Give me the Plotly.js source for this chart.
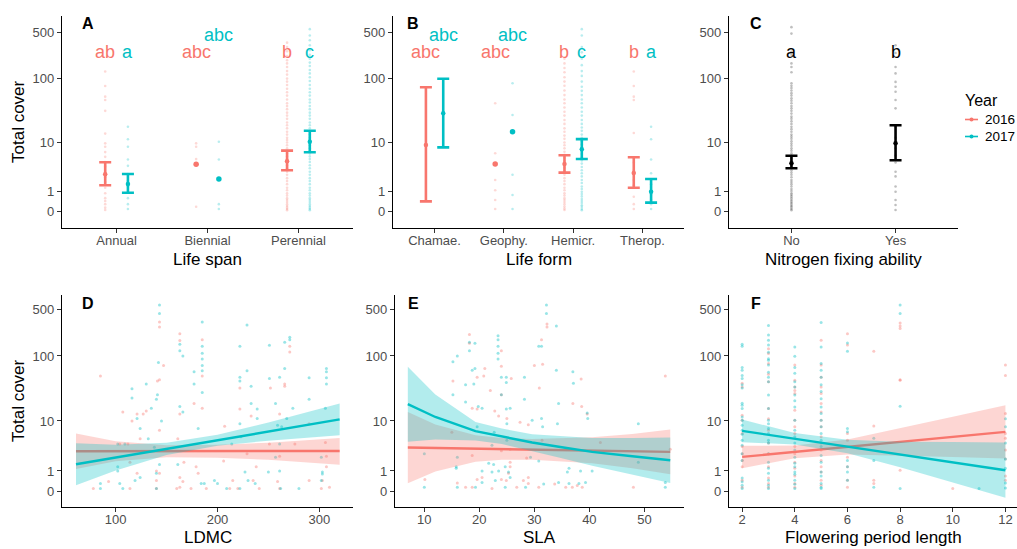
<!DOCTYPE html>
<html><head><meta charset="utf-8">
<script src="https://cdn.plot.ly/plotly-3.0.1.min.js"></script>
<style>html,body{margin:0;padding:0;background:#fff;}#chart{width:1017px;height:549px;}</style>
</head><body><div id="chart"></div>
<script>
// ---------------- DATA ----------------
const yearLabels = ['2016', '2017'];
const coverTicks = [0, 1, 10, 100, 500];

// Panel A: life span
const lifeSpanCats = ['Annual', 'Biennial', 'Perennial'];
const lifeSpanMean16 = [2.66, 4.18, 4.74];
const lifeSpanLo16 = [1.5, null, 3.2];
const lifeSpanHi16 = [4.55, null, 7.3];
const lifeSpanMean17 = [1.61, 2.1, 10.3];
const lifeSpanLo17 = [0.93, null, 6.84];
const lifeSpanHi17 = [2.7, null, 15.6];
const lifeSpanLetters16 = ['ab', 'abc', 'b'];
const lifeSpanLetters17 = ['a', 'abc', 'c'];
const lifeSpanLetterY16 = [250, 250, 250];
const lifeSpanLetterY17 = [250, 450, 250];
const lifeSpanPts16 = [
  [128, 77, 53, 47, 32, 14, 9.7, 8.5, 6.9, 5.7, 4.6, 3.8, 2.9, 2.3, 1.8, 1.3, 0.9, 0.6, 0.45, 0.3, 0.15, 0.06],
  [9.7, 8.5, 5.2, 0.19],
  [350, 300, 260, 220, 190, 170, 150, 130, 115, 100, 90, 80, 70, 62, 55, 48, 42, 38, 34, 30, 27, 24, 21, 19, 17, 15, 13.5, 12, 11, 10, 9, 8, 7.2, 6.5, 5.8, 5.2, 4.6, 4, 3.5, 3, 2.6, 2.2, 1.9, 1.6, 1.3, 1.1, 0.9, 0.75, 0.6, 0.5, 0.4, 0.3, 0.22, 0.15, 0.1, 0.05]
];
const lifeSpanPts17 = [
  [18, 11.3, 8.5, 5.1, 3.9, 2.7, 1.9, 1.4, 0.93, 0.6, 0.3, 0.1],
  [10.3, 5.1, 0.3, 0.1],
  [560, 450, 380, 320, 270, 230, 200, 175, 155, 135, 120, 105, 92, 80, 70, 62, 55, 48, 43, 38, 34, 30, 27, 24, 21, 19, 17, 15, 13.5, 12, 11, 10, 9, 8, 7.2, 6.5, 5.8, 5.2, 4.6, 4, 3.5, 3, 2.6, 2.2, 1.9, 1.6, 1.3, 1.1, 0.9, 0.75, 0.6, 0.5, 0.4, 0.3, 0.22, 0.15, 0.1, 0.05]
];

// Panel B: life form
const lifeFormCats = ['Chamae.', 'Geophy.', 'Hemicr.', 'Therop.'];
const lifeFormMean16 = [9.1, 4.23, 4.23, 2.83];
const lifeFormLo16 = [0.43, null, 2.87, 1.3];
const lifeFormHi16 = [73.7, null, 6.07, 5.6];
const lifeFormMean17 = [29.3, 15, 7.7, 1.0];
const lifeFormLo17 = [8.3, null, 5.22, 0.37];
const lifeFormHi17 = [99.7, null, 11.4, 2.1];
const lifeFormLetters16 = ['abc', 'abc', 'b', 'b'];
const lifeFormLetters17 = ['abc', 'abc', 'c', 'a'];
const lifeFormLetterY16 = [250, 250, 250, 250];
const lifeFormLetterY17 = [450, 450, 250, 250];
const lifeFormPts16 = [
  [],
  [42, 6.6, 2.0, 1.1, 0.5, 0.1],
  [200, 170, 145, 125, 105, 90, 78, 66, 56, 48, 42, 36, 31, 27, 23, 20, 17, 15, 13, 11.5, 10, 9, 8, 7, 6.2, 5.5, 4.8, 4.2, 3.6, 3.1, 2.6, 2.2, 1.9, 1.6, 1.3, 1.1, 0.9, 0.75, 0.6, 0.5, 0.4, 0.3, 0.2, 0.12, 0.06],
  [128, 77, 53, 47, 14.3, 4.5, 3.2, 2.0, 1.5, 0.68, 0.3, 0.1]
];
const lifeFormPts17 = [
  [],
  [85, 27.6, 2.6, 0.78, 0.1],
  [560, 450, 300, 250, 200, 160, 130, 110, 90, 75, 65, 56, 48, 42, 36, 31, 27, 23, 20, 17.5, 15.5, 13.5, 12, 10.5, 9.3, 8.2, 7.2, 6.4, 5.6, 4.9, 4.3, 3.7, 3.2, 2.8, 2.4, 2, 1.7, 1.4, 1.2, 1, 0.85, 0.7, 0.55, 0.45, 0.35, 0.25, 0.18, 0.1, 0.05],
  [18, 11.3, 5.1, 2.8, 1.6, 0.8, 0.5, 0.3, 0.1]
];

// Panel C: nitrogen fixing ability
const nFixCats = ['No', 'Yes'];
const nFixMean = [4.36, 9.7];
const nFixLo = [3.51, 4.94];
const nFixHi = [5.97, 19];
const nFixLetters = ['a', 'b'];
const nFixLetterY = [250, 250];
const nFixPts = [
  [600, 480, 255, 230, 170, 150, 125, 85, 78, 72, 66, 60, 55, 50, 46, 42, 38, 35, 32, 29, 26, 24, 22, 20, 18, 16.5, 15, 13.5, 12.5, 11.5, 10.5, 9.6, 8.8, 8, 7.3, 6.6, 6, 5.4, 4.9, 4.4, 4, 3.6, 3.2, 2.9, 2.6, 2.3, 2, 1.8, 1.6, 1.4, 1.2, 1.05, 0.9, 0.8, 0.7, 0.6, 0.5, 0.42, 0.35, 0.28, 0.22, 0.16, 0.1, 0.05],
  [320, 245, 150, 120, 89, 75, 63, 47, 35, 18, 12, 8, 6, 4.5, 3.0, 2.4, 1.4, 1.0, 0.5, 0.26, 0.06]
];

// Panel D: LDMC  [LDMC, cover]
const ldmcPts16 = [[85,50],[143,320],[143,270],[143,44],[141,42],[147,72],[143,7],[140,1],[140,0.45],[140,0.1],[143,0.85],[127,13],[130,14.5],[121,13],[124,5],[116,10],[107,14],[112,4],[114,1.7],[104,4],[93,0.4],[78,0.1],[114,0.1],[121,0.85],[163,215],[163,170],[163,13],[161,5],[167,1.7],[163,0.6],[166,0.4],[160,0.1],[163,0.15],[185,175],[185,50],[185,16],[177,19],[179,1.3],[181,0.85],[174,0.1],[189,0.1],[207,8.2],[206,1.8],[215,0.45],[220,0.1],[212,0.1],[222,33],[222,15.5],[233,12],[229,2.6],[238,1.3],[235,0.45],[241,0.1],[252,33],[266,38],[271,140],[271,115],[266,35],[261,13],[251,4],[261,2.3],[276,4],[259,0.4],[261,0.1],[290,9],[290,0.45],[306,4.3],[307,2.3],[307,1.3],[303,0.45],[302,0.1],[310,0.15]];
const ldmcPts17 = [[143,575],[143,430],[142,80],[141,26],[140,22],[135,16],[130,38],[116,32],[116,23],[121,11],[124,7.5],[102,4],[109,4],[102,1.3],[102,1],[85,0.3],[85,0.1],[104,0.3],[107,0.1],[119,0.45],[124,0.6],[132,5],[138,3.5],[143,1.5],[140,0.85],[140,0.1],[145,10],[163,150],[163,120],[166,100],[163,17],[166,14],[161,1.5],[185,320],[185,140],[185,110],[185,90],[185,72],[185,60],[185,28],[177,58],[177,38],[181,7.5],[184,0.3],[187,0.3],[222,140],[229,290],[222,48],[222,42],[233,35],[229,60],[233,19],[222,9],[239,15.5],[239,11],[223,5.4],[214,4],[227,0.93],[230,0.45],[237,0.3],[222,0.1],[197,0.45],[200,0.3],[209,0.1],[251,145],[266,160],[271,190],[271,175],[266,65],[251,46],[261,48],[257,19],[259,8.5],[263,8],[268,11],[274,16],[261,4],[257,2.2],[261,1],[250,0.93],[262,0.1],[290,47],[290,22],[307,65],[307,58],[307,47],[307,38],[306,16],[302,2.2],[303,0.93],[303,0.8],[280,0.1],[302,0.45]];
const ldmcGrid = [61, 100, 150, 200, 250, 320];
const ldmcFit16 = [2.92, 2.92, 2.93, 2.94, 2.95, 2.96];
const ldmcLo16 = [1.14, 1.79, 2.20, 2.13, 1.92, 1.48];
const ldmcHi16 = [6.18, 4.50, 3.79, 3.90, 4.25, 5.17];
const ldmcFit17 = [1.51, 2.16, 3.25, 4.70, 6.67, 10.6];
const ldmcLo17 = [0.23, 1.04, 2.45, 3.74, 4.62, 5.75];
const ldmcHi17 = [4.13, 3.90, 4.22, 5.85, 9.47, 18.9];

// Panel E: SLA  [SLA, cover]
const slaPts16 = [[18.2,210],[18.2,155],[32.3,300],[32.3,270],[31.3,175],[31.5,75],[30,72],[30.9,33],[15.2,42],[15,6.5],[21,65],[20.8,50],[19.6,48],[22,30],[24,120],[24,70],[24,26],[25.8,46],[22.8,14.5],[18.7,16],[19.6,15.5],[23.5,12],[25,11],[27.4,9.5],[28.9,8.7],[37,19],[38.6,17],[38.5,45],[39.6,13],[53.8,50],[48,0.15],[10.1,0.5],[16,0.33],[19.6,0.5],[20.5,0.6],[24,0.5],[24.9,0.45],[25.3,0.85],[25.6,1.3],[25.6,1.7],[26.8,0.15],[28,0.45],[28.9,0.6],[28.6,2.1],[28.9,0.3],[30.8,0.15],[33.7,0.28],[35.7,0.15],[36.9,0.15],[37.8,0.22],[38.7,0.15],[17.5,0.15],[18.7,0.15],[22.3,0.1],[18.7,2.4],[24,3],[25.6,3.2],[31.4,4.7],[42,4.3],[54.7,3.2]];
const slaPts17 = [[32.2,575],[32.2,430],[34,280],[30.8,140],[31.3,140],[23.4,200],[23.4,175],[23.4,140],[23.4,110],[23.4,90],[18.2,160],[19.2,155],[18.2,120],[15.2,82],[16,100],[18.7,61],[19.2,65],[19,38],[17.5,37],[15.2,26],[17.5,20],[19.8,17],[20.5,16],[24,48],[24.9,48],[24.9,40],[24,26],[24.9,15.5],[25.6,16],[28.2,48],[28.2,22],[29.6,10.3],[31.3,11],[31.5,8],[34,61],[34.4,19],[34.2,9],[37,58],[37.1,39],[39.7,11],[39.6,13.5],[48.9,9],[48.9,1.7],[53.8,0.35],[53.8,0.15],[10,2.6],[10,0.15],[15.8,1.3],[15.8,1.2],[16,2.2],[20.5,1.0],[21.7,1.6],[22.6,1.5],[22.3,0.93],[23.5,1],[24.7,1.3],[25.3,0.93],[25.6,0.6],[22.9,0.45],[24.7,0.15],[28.4,0.15],[31.7,0.28],[36.3,0.3],[36,0.93],[36.3,1.2],[39.3,0.35],[40.5,1.0],[29.3,2.2],[30.8,1.8],[19.3,0.15],[16,0.15],[20.5,0.35],[34.4,0.35],[38.4,1.0],[38.1,0.3],[22.7,6.5],[25,4.7],[22.3,3.8],[19.6,8],[25,9]];
const slaGrid = [7, 12, 19.3, 24.1, 29.6, 35, 40.5, 47.8, 54.7];
const slaFit16 = [3.45, 3.39, 3.31, 3.25, 3.19, 3.12, 3.06, 2.94, 2.83];
const slaLo16 = [0.315, 0.968, 1.74, 1.92, 1.94, 1.79, 1.61, 1.19, 0.78];
const slaHi16 = [14.0, 8.77, 5.76, 5.17, 4.96, 5.10, 5.31, 6.08, 7.22];
const slaFit17 = [18.5, 11.6, 6.77, 5.55, 4.28, 3.5, 2.83, 2.3, 1.88];
const slaLo17 = [4.40, 4.83, 4.65, 4.01, 2.96, 2.09, 1.38, 0.78, 0.33];
const slaHi17 = [68.8, 26.2, 9.67, 7.51, 6.01, 5.53, 5.17, 5.17, 5.27];

// Panel F: flowering period length  [length, cover]
const fplPts16 = [[2,39],[2,34],[2,12.4],[2,10.3],[2,6.2],[2,3.6],[2,2.6],[2,1.85],[2,1.3],[2,0.46],[2,0.15],
  [3,128],[3,109],[3,77],[3,53],[3,41],[3,15.8],[3,10.9],[3,7.0],[3,4.2],[3,2.6],[3,1.3],[3,0.57],[3,0.3],[3,0.15],
  [4,73],[4,43],[4,34],[4,30],[4,27],[4,14.8],[4,10.3],[4,8.0],[4,6.2],[4,3.6],[4,2.6],[4,1.7],[4,1.2],[4,0.68],[4,0.3],[4,0.15],
  [5,172],[5,73],[5,48],[5,34],[5,27],[5,19],[5,14],[5,10.3],[5,8.0],[5,5.4],[5,4.2],[5,3.1],[5,1.85],[5,1.3],[5,0.93],[5,0.46],[5,0.23],
  [6,215],[6,146],[6,6.2],[6,4.7],[6,2.2],[6,1.3],[6,0.46],[6,0.15],
  [7,118],[7,8.3],[7,0.46],[7,0.3],
  [8,310],[8,280],[8,257],[8,44],[8,43],[8,1.05],
  [10,0.1],
  [12,73],[12,51],[12,13.2],[12,6.2],[12,5.1],[12,3.1],[12,2.0],[12,0.68],[12,0.46]];
const fplPts17 = [[2,150],[2,140],[2,67],[2,61],[2,51],[2,46],[2,37],[2,33],[2,19.2],[2,17.8],[2,15.8],[2,11.6],[2,10.3],[2,8.5],[2,7.0],[2,6.0],[2,4.7],[2,3.8],[2,2.6],[2,1.85],[2,0.57],[2,0.38],[2,0.23],[2,0.1],
  [3,285],[3,205],[3,172],[3,146],[3,114],[3,91],[3,86],[3,73],[3,57],[3,48],[3,41],[3,25.6],[3,15.8],[3,10.3],[3,9.0],[3,7.5],[3,6.2],[3,4.7],[3,4.2],[3,2.6],[3,1.7],[3,1.2],[3,0.85],[3,0.46],[3,0.23],[3,0.1],
  [4,136],[4,99],[4,67],[4,55],[4,41],[4,34],[4,25.6],[4,21],[4,16.7],[4,10.3],[4,7.0],[4,5.4],[4,4.2],[4,3.1],[4,2.2],[4,1.6],[4,1.3],[4,0.93],[4,0.78],[4,0.46],[4,0.27],[4,0.1],
  [5,315],[5,136],[5,77],[5,61],[5,48],[5,37],[5,29],[5,22.5],[5,16.7],[5,13.2],[5,10.3],[5,8.0],[5,6.2],[5,4.7],[5,3.6],[5,2.4],[5,1.7],[5,0.93],[5,0.68],[5,0.3],[5,0.15],[5,0.1],
  [6,157],[6,118],[6,7.5],[6,6.6],[6,1.85],[6,1.3],[6,0.93],[6,0.46],
  [7,5.1],[7,1.85],[7,0.15],
  [8,575],[8,430],[8,17.2],[8,0.1],
  [11,0.1],
  [12,10.9],[12,8.0],[12,4.2],[12,2.0],[12,1.2],[12,0.33],[12,0.12]];
const fplGrid = [2, 4, 6, 8, 10, 12];
const fplFit16 = [2.23, 2.83, 3.54, 4.38, 5.40, 6.59];
const fplLo16 = [1.20, 2.08, 2.52, 2.40, 2.21, 2.05];
const fplHi16 = [3.73, 3.76, 4.85, 7.53, 11.76, 17.84];
const fplFit17 = [6.85, 5.0, 3.59, 2.51, 1.69, 1.05];
const fplLo17 = [4.33, 3.93, 2.65, 1.26, 0.35, -0.20];
const fplHi17 = [10.56, 6.29, 4.78, 4.43, 4.36, 4.27];

// ---------------- DRAWING ----------------
const tr = v => Math.log10(v + 1);
const RED = '#F8766D', CYAN = '#00BFC4', BLACK = '#000000';
const FONT = 'Liberation Sans, Arial, Helvetica, sans-serif';
const W = 1017, H = 549;
const PX = p => p / W, PY = p => 1 - p / H;
const DODGE = 0.125;

const traces = [];
const annotations = [];

function catSeries(xa, ya, pts, mean, lo, hi, color, offset, ptOpacity) {
  const px = [], py = [];
  pts.forEach((arr, i) => arr.forEach(v => { px.push(i + 1 + offset); py.push(tr(v)); }));
  traces.push({type: 'scatter', mode: 'markers', x: px, y: py, xaxis: xa, yaxis: ya,
    marker: {color: color, size: 2.6, opacity: ptOpacity, line: {width: 0}}, hoverinfo: 'skip'});
  const ex = [], ey = [], ep = [], em = [], dx = [], dy = [];
  mean.forEach((m, i) => {
    if (lo[i] != null) {
      ex.push(i + 1 + offset); ey.push(tr(m));
      ep.push(tr(hi[i]) - tr(m)); em.push(tr(m) - tr(lo[i]));
    } else { dx.push(i + 1 + offset); dy.push(tr(m)); }
  });
  traces.push({type: 'scatter', mode: 'markers', x: ex, y: ey, xaxis: xa, yaxis: ya,
    marker: {color: color, size: 4.5},
    error_y: {type: 'data', symmetric: false, array: ep, arrayminus: em, color: color, thickness: 2.6, width: 6},
    hoverinfo: 'skip'});
  traces.push({type: 'scatter', mode: 'markers', x: dx, y: dy, xaxis: xa, yaxis: ya,
    marker: {color: color, size: 5.5}, hoverinfo: 'skip'});
}
function letters(xa, ya, labels, ys, color, offset) {
  labels.forEach((t, i) => annotations.push({xref: xa, yref: ya, x: i + 1 + offset, y: tr(ys[i]), text: t,
    showarrow: false, xanchor: 'center', yanchor: 'middle', font: {family: FONT, size: 18, color: color}}));
}
function scatterSeries(xa, ya, pts, color) {
  traces.push({type: 'scatter', mode: 'markers', x: pts.map(p => p[0]), y: pts.map(p => tr(p[1])),
    xaxis: xa, yaxis: ya, marker: {color: color, size: 3, opacity: 0.4, line: {width: 0}}, hoverinfo: 'skip'});
}
function smoothSeries(xa, ya, grid, fit, lo, hi, fill, color) {
  traces.push({type: 'scatter', mode: 'lines', x: grid.concat(grid.slice().reverse()),
    y: hi.map(tr).concat(lo.map(tr).reverse()), xaxis: xa, yaxis: ya, fill: 'toself',
    fillcolor: fill, line: {width: 0}, hoverinfo: 'skip'});
  traces.push({type: 'scatter', mode: 'lines', x: grid, y: fit.map(tr), xaxis: xa, yaxis: ya,
    line: {color: color, width: 2.4}, hoverinfo: 'skip'});
}

// Top row
catSeries('x', 'y', lifeSpanPts16, lifeSpanMean16, lifeSpanLo16, lifeSpanHi16, RED, -DODGE, 0.28);
catSeries('x', 'y', lifeSpanPts17, lifeSpanMean17, lifeSpanLo17, lifeSpanHi17, CYAN, DODGE, 0.28);
letters('x', 'y', lifeSpanLetters16, lifeSpanLetterY16, RED, -DODGE);
letters('x', 'y', lifeSpanLetters17, lifeSpanLetterY17, CYAN, DODGE);

catSeries('x2', 'y2', lifeFormPts16, lifeFormMean16, lifeFormLo16, lifeFormHi16, RED, -DODGE, 0.28);
catSeries('x2', 'y2', lifeFormPts17, lifeFormMean17, lifeFormLo17, lifeFormHi17, CYAN, DODGE, 0.28);
letters('x2', 'y2', lifeFormLetters16, lifeFormLetterY16, RED, -DODGE);
letters('x2', 'y2', lifeFormLetters17, lifeFormLetterY17, CYAN, DODGE);

catSeries('x3', 'y3', nFixPts, nFixMean, nFixLo, nFixHi, BLACK, 0, 0.25);
letters('x3', 'y3', nFixLetters, nFixLetterY, BLACK, 0);

// Bottom row
scatterSeries('x4', 'y4', ldmcPts16, RED);
scatterSeries('x4', 'y4', ldmcPts17, CYAN);
smoothSeries('x4', 'y4', ldmcGrid, ldmcFit16, ldmcLo16, ldmcHi16, 'rgba(248,118,109,0.3)', RED);
smoothSeries('x4', 'y4', ldmcGrid, ldmcFit17, ldmcLo17, ldmcHi17, 'rgba(0,191,196,0.3)', CYAN);

scatterSeries('x5', 'y5', slaPts16, RED);
scatterSeries('x5', 'y5', slaPts17, CYAN);
smoothSeries('x5', 'y5', slaGrid, slaFit16, slaLo16, slaHi16, 'rgba(248,118,109,0.3)', RED);
smoothSeries('x5', 'y5', slaGrid, slaFit17, slaLo17, slaHi17, 'rgba(0,191,196,0.3)', CYAN);

scatterSeries('x6', 'y6', fplPts16, RED);
scatterSeries('x6', 'y6', fplPts17, CYAN);
smoothSeries('x6', 'y6', fplGrid, fplFit16, fplLo16, fplHi16, 'rgba(248,118,109,0.3)', RED);
smoothSeries('x6', 'y6', fplGrid, fplFit17, fplLo17, fplHi17, 'rgba(0,191,196,0.3)', CYAN);

// Axes
const tickFont = {family: FONT, size: 13, color: '#4d4d4d'};
const base = {showline: true, linecolor: '#000', linewidth: 1.1, ticks: 'outside', ticklen: 4,
  tickcolor: '#333', tickwidth: 1, showgrid: false, zeroline: false, tickfont: tickFont, fixedrange: true};
const xbase = {...base, ticklabelstandoff: -4};
const yTop = {...base, domain: [PY(228), PY(16)], range: [-0.2455, 2.947],
  tickvals: coverTicks.map(tr), ticktext: coverTicks.map(String)};
const yBot = {...base, domain: [PY(507), PY(295)], range: [-0.233, 2.908],
  tickvals: coverTicks.map(tr), ticktext: coverTicks.map(String)};
const catAxis = (cats, d0, d1) => ({...xbase, domain: [PX(d0), PX(d1)], range: [0.4, cats.length + 0.6],
  tickvals: cats.map((c, i) => i + 1), ticktext: cats});

const layout = {
  width: W, height: H, margin: {l: 0, r: 0, t: 0, b: 0}, paper_bgcolor: '#fff', plot_bgcolor: '#fff',
  showlegend: false, font: {family: FONT},
  xaxis: {...catAxis(lifeSpanCats, 62, 353), anchor: 'y'},
  yaxis: {...yTop, anchor: 'x'},
  xaxis2: {...catAxis(lifeFormCats, 393, 684), anchor: 'y2'},
  yaxis2: {...yTop, anchor: 'x2'},
  xaxis3: {...catAxis(nFixCats, 729, 958), anchor: 'y3'},
  yaxis3: {...yTop, anchor: 'x3'},
  xaxis4: {...xbase, domain: [PX(62), PX(353)], range: [47.25, 333.1], tickvals: [100, 200, 300], anchor: 'y4'},
  yaxis4: {...yBot, anchor: 'x4'},
  xaxis5: {...xbase, domain: [PX(395), PX(684)], range: [4.67, 57.2], tickvals: [10, 20, 30, 40, 50], anchor: 'y5'},
  yaxis5: {...yBot, anchor: 'x5'},
  xaxis6: {...xbase, domain: [PX(729), 1], range: [1.5, 12.44], tickvals: [2, 4, 6, 8, 10, 12], anchor: 'y6'},
  yaxis6: {...yBot, anchor: 'x6'},
  annotations: annotations,
  shapes: []
};

// Panel letters
const panelLabels = [['A', 80, 23], ['B', 405, 23], ['C', 748, 23], ['D', 80, 303.5], ['E', 406, 303.5], ['F', 749, 303.5]];
panelLabels.forEach(p => annotations.push({xref: 'paper', yref: 'paper', x: PX(p[1]), y: PY(p[2]),
  text: '<b>' + p[0] + '</b>', showarrow: false, xanchor: 'left', yanchor: 'middle',
  font: {family: FONT, size: 16, color: '#000'}}));

// Axis titles
const titleFont = {family: FONT, size: 17, color: '#000'};
const axisTitles = [['Life span', 207.5, 259], ['Life form', 538.5, 259], ['Nitrogen fixing ability', 843.5, 259],
  ['LDMC', 207.5, 537.5], ['SLA', 539.5, 537.5], ['Flowering period length', 873, 537.5]];
axisTitles.forEach(t => annotations.push({xref: 'paper', yref: 'paper', x: PX(t[1]), y: PY(t[2]), text: t[0],
  showarrow: false, xanchor: 'center', yanchor: 'middle', font: titleFont}));
[122, 401].forEach(yc => annotations.push({xref: 'paper', yref: 'paper', x: PX(18), y: PY(yc), text: 'Total cover',
  textangle: -90, showarrow: false, xanchor: 'center', yanchor: 'middle', font: titleFont}));

// Legend (manual)
annotations.push({xref: 'paper', yref: 'paper', x: PX(963), y: PY(100), text: 'Year', showarrow: false,
  xanchor: 'left', yanchor: 'middle', font: {family: FONT, size: 16, color: '#000'}});
[[yearLabels[0], RED, 119.5], [yearLabels[1], CYAN, 136.5]].forEach(it => {
  layout.shapes.push({type: 'line', xref: 'paper', yref: 'paper', x0: PX(965), x1: PX(978), y0: PY(it[2]), y1: PY(it[2]),
    line: {color: it[1], width: 1.6}});
  layout.shapes.push({type: 'circle', xref: 'paper', yref: 'paper', x0: PX(969.5), x1: PX(973.5), y0: PY(it[2] + 2), y1: PY(it[2] - 2),
    fillcolor: it[1], line: {color: it[1], width: 0}});
  annotations.push({xref: 'paper', yref: 'paper', x: PX(983), y: PY(it[2]), text: it[0], showarrow: false,
    xanchor: 'left', yanchor: 'middle', font: {family: FONT, size: 13.5, color: '#000'}});
});

Plotly.newPlot('chart', traces, layout, {staticPlot: true, displayModeBar: false});
</script>
</body></html>
